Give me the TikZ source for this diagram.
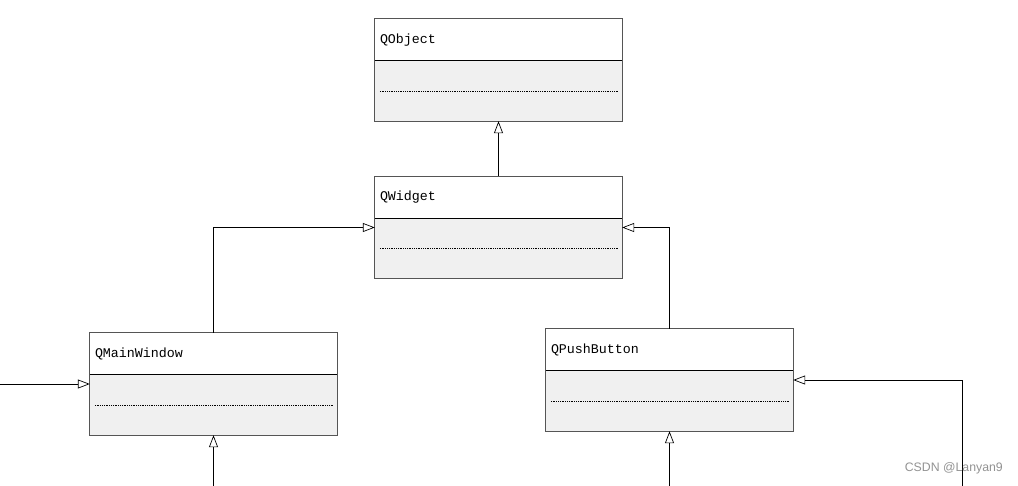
\documentclass[tikz,border=0pt]{standalone}
\usepackage{fontspec}
\setmainfont{Liberation Serif}
\newfontfamily\classfont{Liberation Mono}
\newfontfamily\wmfont{Liberation Sans}
\usetikzlibrary{arrows.meta}
\definecolor{compfill}{HTML}{F0F0F0}
\definecolor{bordergray}{HTML}{555555}
\tikzset{
  classbox/.style={rectangle, draw=none, minimum width=247pt, minimum height=102pt, inner sep=0pt},
  classlabel/.style={anchor=west, inner sep=0pt, font=\classfont\fontsize{13.3}{15}\selectfont},
  divider/.style={draw=black, line width=0.7pt},
  dotline/.style={draw=black, line width=0.5pt, dash pattern=on 1pt off 0.8pt},
  boxborder/.style={draw=bordergray, line width=0.9pt},
  inherit/.style={draw=black, line width=0.7pt, -{Triangle[open, length=12pt, width=9pt, fill=white]}},
  watermark/.style={anchor=east, inner sep=0pt, text=gray!85, font=\wmfont\fontsize{12.3}{14}\selectfont}
}
\newcommand\drawclass[2]{%
  \fill[compfill] ([yshift=-42pt]#1.north west) rectangle (#1.south east);
  \draw[divider] ([yshift=-42pt]#1.north west) -- ([yshift=-42pt]#1.north east);
  \draw[dotline] ([xshift=5pt,yshift=-72pt]#1.north west) -- ([xshift=-4pt,yshift=-72pt]#1.north east);
  \draw[boxborder] (#1.north west) rectangle (#1.south east);
  \node[classlabel] (#1-label) at ([xshift=5pt,yshift=-21pt]#1.north west) {#2};
}
\begin{document}
\begin{tikzpicture}[x=1pt,y=-1pt]
\useasboundingbox[fill=white] (0,0) rectangle (1018,485);
\node[classbox] (qobj) at (498.5,70) {};
\node[classbox] (qwid) at (498.5,227.5) {};
\node[classbox] (qmw) at (213.5,384) {};
\node[classbox] (qpb) at (669.5,380) {};
\drawclass{qobj}{QObject}
\drawclass{qwid}{QWidget}
\drawclass{qmw}{QMainWindow}
\drawclass{qpb}{QPushButton}
\coordinate (leftin) at (0,384);
\coordinate (mwbot) at (213.5,486);
\coordinate (pbbot) at (669.5,486);
\coordinate (rightin) at (962,486);
\draw[inherit] (qwid.north) -- (qobj.south);
\draw[inherit] (qmw.north) |- (qwid.west);
\draw[inherit] (qpb.north) |- (qwid.east);
\draw[inherit] (leftin) -- (qmw.west);
\draw[inherit] (mwbot) -- (qmw.south);
\draw[inherit] (pbbot) -- (qpb.south);
\draw[inherit] (rightin) |- (qpb.east);
\node[watermark] (wm) at (1003,468) {CSDN @Lanyan9};
\end{tikzpicture}
\end{document}
